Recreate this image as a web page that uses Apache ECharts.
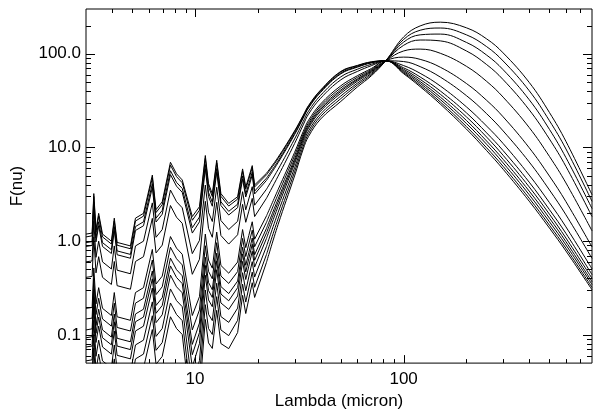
<!DOCTYPE html>
<html><head><meta charset="utf-8">
<script src="https://cdn.jsdelivr.net/npm/echarts@6/dist/echarts.min.js"></script>
<style>html,body{margin:0;padding:0;background:#fff}#chart{width:593px;height:415px}</style>
</head><body><div id="chart"></div>
<script>
// Wavelength grid (micron)
const wavelengths = [3.0, 3.21, 3.27, 3.35, 3.45, 3.6, 3.97, 4.1, 4.23, 4.9, 5.18, 5.66, 6.24, 6.5, 6.96, 7.62, 8.15, 8.68, 9.7, 10.5, 11.2, 11.6, 12.1, 12.7, 13.3, 14.5, 16.0, 16.9, 17.5, 18.1, 18.8, 19.3, 22, 25, 30, 33, 35, 40, 50, 60, 70, 82, 100, 120, 150, 200, 250, 300, 400, 500, 600, 800];

// F(nu) per template
const sed01 = [1.19, 1.22, 3.22, 1.33, 1.98, 1.19, 1.00, 1.76, 0.97, 0.89, 1.76, 1.98, 5.07, 2.17, 2.63, 6.95, 5.23, 4.5, 1.83, 2.33, 8.2, 4.11, 3.2, 7.3, 3.22, 2.53, 2.98, 5.9, 3.79, 4.83, 6.4, 3.98, 5.3, 7.85, 15.0, 22.0, 28.0, 41.0, 64.8, 75.0, 82.0, 84, 61.2, 44.5, 29.0, 15.7, 9.25, 5.85, 2.67, 1.38, 0.785, 0.303];
const sed02 = [1.11, 1.14, 3.00, 1.24, 1.85, 1.11, 0.933, 1.64, 0.905, 0.830, 1.64, 1.85, 4.73, 2.02, 2.45, 6.48, 4.88, 4.20, 1.67, 2.14, 7.63, 3.83, 2.99, 6.83, 3.01, 2.37, 2.81, 5.58, 3.59, 4.58, 6.08, 3.79, 5.10, 7.61, 14.7, 21.7, 27.6, 40.4, 63.9, 74.3, 81.4, 84, 62.6, 46.2, 30.5, 16.7, 9.91, 6.28, 2.87, 1.48, 0.840, 0.321];
const sed03 = [0.965, 0.989, 2.61, 1.08, 1.61, 0.965, 0.811, 1.43, 0.787, 0.722, 1.43, 1.61, 4.11, 1.76, 2.13, 5.64, 4.24, 3.65, 1.39, 1.81, 6.58, 3.31, 2.60, 5.96, 2.63, 2.08, 2.48, 4.97, 3.19, 4.09, 5.46, 3.42, 4.70, 7.16, 14.1, 21.0, 26.9, 39.4, 62.1, 72.8, 80.5, 84, 64.3, 48.3, 32.4, 18.0, 10.8, 6.84, 3.13, 1.61, 0.911, 0.345];
const sed04 = [0.878, 0.900, 2.38, 0.982, 1.46, 0.878, 0.738, 1.30, 0.716, 0.657, 1.30, 1.46, 3.74, 1.60, 1.94, 5.13, 3.86, 3.32, 1.22, 1.61, 5.94, 3.00, 2.36, 5.44, 2.40, 1.90, 2.28, 4.60, 2.96, 3.80, 5.08, 3.19, 4.45, 6.87, 13.7, 20.6, 26.4, 38.7, 61.0, 71.9, 79.8, 84, 66.1, 50.5, 34.4, 19.4, 11.7, 7.46, 3.42, 1.76, 0.987, 0.369];
const sed05 = [0.601, 0.616, 1.63, 0.672, 1.00, 0.601, 0.505, 0.889, 0.490, 0.449, 0.889, 1.00, 2.56, 1.10, 1.33, 3.51, 2.64, 2.27, 0.736, 1.02, 3.97, 2.03, 1.62, 3.76, 1.66, 1.33, 1.63, 3.37, 2.16, 2.82, 3.81, 2.42, 3.58, 5.82, 12.3, 18.9, 24.4, 36.0, 56.7, 68.3, 77.1, 84, 68.2, 53.2, 36.9, 21.2, 12.9, 8.24, 3.79, 1.94, 1.08, 0.401];
const sed06 = [0.411, 0.421, 1.11, 0.459, 0.683, 0.411, 0.345, 0.607, 0.335, 0.307, 0.607, 0.683, 1.75, 0.749, 0.907, 2.40, 1.80, 1.55, 0.443, 0.641, 2.66, 1.37, 1.10, 2.60, 1.15, 0.931, 1.17, 2.47, 1.59, 2.09, 2.86, 1.83, 2.87, 4.93, 11.0, 17.4, 22.7, 33.5, 52.7, 64.7, 74.5, 84, 70.7, 56.5, 40.0, 23.4, 14.3, 9.24, 4.26, 2.17, 1.21, 0.440];
const sed07 = [0.192, 0.196, 0.518, 0.214, 0.319, 0.192, 0.161, 0.283, 0.156, 0.143, 0.283, 0.319, 0.816, 0.349, 0.423, 1.12, 0.842, 0.725, 0.161, 0.256, 1.19, 0.629, 0.515, 1.25, 0.551, 0.455, 0.599, 1.33, 0.853, 1.15, 1.61, 1.05, 1.86, 3.54, 8.84, 14.8, 19.5, 29.1, 45.5, 58.2, 69.5, 84, 74.7, 61.8, 45.2, 27.1, 16.9, 11.0, 5.07, 2.58, 1.42, 0.506];
const sed08 = [0.148, 0.151, 0.399, 0.165, 0.246, 0.148, 0.124, 0.218, 0.120, 0.110, 0.218, 0.246, 0.629, 0.269, 0.326, 0.862, 0.649, 0.558, 0.113, 0.185, 0.894, 0.477, 0.397, 0.964, 0.425, 0.354, 0.474, 1.07, 0.686, 0.932, 1.31, 0.872, 1.59, 3.16, 8.18, 13.9, 18.4, 27.7, 43.2, 56.0, 67.7, 84, 82.5, 72.8, 56.3, 35.7, 22.9, 15.0, 6.99, 3.52, 1.91, 0.655];
const sed09 = [0.113, 0.116, 0.305, 0.126, 0.188, 0.113, 0.0948, 0.167, 0.0920, 0.0844, 0.167, 0.188, 0.481, 0.206, 0.249, 0.659, 0.496, 0.427, 0.0792, 0.134, 0.674, 0.363, 0.303, 0.745, 0.328, 0.276, 0.375, 0.861, 0.553, 0.753, 1.08, 0.716, 1.37, 2.81, 7.56, 13.2, 17.5, 26.4, 41.1, 53.9, 66.2, 84, 92.0, 87.1, 71.7, 48.1, 31.8, 21.2, 9.92, 4.95, 2.64, 0.867];
const sed10 = [0.0932, 0.0955, 0.252, 0.104, 0.155, 0.0932, 0.0783, 0.138, 0.0760, 0.0697, 0.138, 0.155, 0.397, 0.170, 0.206, 0.544, 0.410, 0.352, 0.0615, 0.106, 0.551, 0.298, 0.251, 0.618, 0.273, 0.231, 0.319, 0.732, 0.470, 0.652, 0.928, 0.625, 1.22, 2.59, 7.14, 12.6, 16.8, 25.4, 39.6, 52.6, 64.9, 84, 107, 112, 101, 73.4, 50.7, 34.4, 16.3, 8.02, 4.18, 1.29];
const sed11 = [0.0743, 0.0761, 0.201, 0.0830, 0.124, 0.0743, 0.0624, 0.110, 0.0605, 0.0555, 0.110, 0.124, 0.316, 0.135, 0.164, 0.434, 0.326, 0.281, 0.0454, 0.0809, 0.433, 0.236, 0.200, 0.496, 0.219, 0.187, 0.260, 0.608, 0.390, 0.541, 0.781, 0.529, 1.07, 2.34, 6.71, 12.0, 16.1, 24.4, 37.8, 50.9, 63.6, 84, 123, 140, 137, 107, 76.6, 52.9, 25.2, 12.3, 6.26, 1.83];
const sed12 = [0.0528, 0.0542, 0.143, 0.0591, 0.0879, 0.0528, 0.0444, 0.0781, 0.0431, 0.0395, 0.0781, 0.0879, 0.225, 0.0963, 0.117, 0.309, 0.232, 0.200, 0.0287, 0.0534, 0.301, 0.166, 0.142, 0.356, 0.157, 0.136, 0.193, 0.461, 0.296, 0.415, 0.604, 0.414, 0.880, 2.02, 6.06, 11.2, 15.0, 22.8, 35.4, 48.5, 61.7, 84, 133, 159, 162, 132, 96.7, 67.5, 32.3, 15.6, 7.78, 2.23];
const sed13 = [0.0375, 0.0384, 0.101, 0.0419, 0.0624, 0.0375, 0.0315, 0.0554, 0.0306, 0.0280, 0.0554, 0.0624, 0.160, 0.0684, 0.0828, 0.219, 0.165, 0.142, 0.0182, 0.0352, 0.210, 0.117, 0.101, 0.256, 0.113, 0.0982, 0.143, 0.348, 0.224, 0.317, 0.467, 0.322, 0.721, 1.73, 5.49, 10.3, 14.0, 21.4, 33.2, 46.4, 59.8, 84, 142, 178, 188, 159, 119, 83.6, 40.3, 19.3, 9.63, 2.66];
const sed14 = [0.0267, 0.0273, 0.0721, 0.0298, 0.0444, 0.0267, 0.0224, 0.0394, 0.0217, 0.0199, 0.0394, 0.0444, 0.114, 0.0486, 0.0589, 0.156, 0.117, 0.101, 0.0115, 0.0233, 0.146, 0.0822, 0.0717, 0.183, 0.0808, 0.0713, 0.106, 0.264, 0.169, 0.242, 0.360, 0.251, 0.594, 1.50, 4.97, 9.61, 13.1, 20.1, 31.0, 44.2, 58.1, 84, 151, 198, 217, 189, 144, 102, 49.4, 23.6, 11.6, 3.13];

const seds = [sed01, sed02, sed03, sed04, sed05, sed06, sed07, sed08, sed09, sed10, sed11, sed12, sed13, sed14];

// index where the smooth far-infrared part begins (22 micron)
const farStart = 32;

// Axis ticks and labels
const xTickLabels = [[10, '10'], [100, '100']];
const yTickLabels = [[0.1, '0.1'], [1, '1.0'], [10, '10.0'], [100, '100.0']];
const xMajorTicks = [10, 100];
const xMinorTicks = [4, 5, 6, 7, 8, 9, 20, 30, 40, 50, 60, 70, 80, 90, 200, 300, 400, 500, 600, 700];
const yMajorTicks = [0.1, 1, 10, 100];
const yMinorTicks = [0.06, 0.07, 0.08, 0.09, 0.2, 0.3, 0.4, 0.5, 0.6, 0.7, 0.8, 0.9, 2, 3, 4, 5, 6, 7, 8, 9, 20, 30, 40, 50, 60, 70, 80, 90, 200];

function lookup(table, v) {
  for (const [t, s] of table) if (Math.abs(v / t - 1) < 1e-6) return s;
  return '';
}

function tickSeries(values, isX, len) {
  return {
    type: 'custom', silent: true, z: 5, clip: false, animation: false,
    data: values.map(v => isX ? [v, 1] : [10, v]),
    renderItem: function (params, api) {
      const cs = params.coordSys;
      const p = api.coord([api.value(0), api.value(1)]);
      const style = { stroke: '#000', lineWidth: 1, fill: null };
      if (isX) {
        const x = Math.round(p[0]) + 0.5;
        const yb = cs.y + cs.height, yt = cs.y;
        return { type: 'group', children: [
          { type: 'line', shape: { x1: x, y1: yb, x2: x, y2: yb - len }, style: style },
          { type: 'line', shape: { x1: x, y1: yt, x2: x, y2: yt + len }, style: style }
        ] };
      } else {
        const y = Math.round(p[1]) + 0.5;
        const xl = cs.x, xr = cs.x + cs.width;
        return { type: 'group', children: [
          { type: 'line', shape: { x1: xl, y1: y, x2: xl + len, y2: y }, style: style },
          { type: 'line', shape: { x1: xr, y1: y, x2: xr - len, y2: y }, style: style }
        ] };
      }
    }
  };
}

const font = 'Liberation Sans, Arial, Helvetica, sans-serif';
const chart = echarts.init(document.getElementById('chart'), null, { renderer: 'canvas' });

const lineSeries = [];
seds.forEach((s, k) => {
  const pts = wavelengths.map((w, i) => [w, s[i]]);
  // mid-infrared part: sharp features
  lineSeries.push({
    type: 'line', name: 'sed' + (k + 1) + 'a', symbol: 'none', showSymbol: false,
    animation: false, silent: true, clip: true,
    lineStyle: { color: '#000', width: 1 },
    data: pts.slice(0, farStart + 1)
  });
  // far-infrared part: smooth continuum
  lineSeries.push({
    type: 'line', name: 'sed' + (k + 1) + 'b', symbol: 'none', showSymbol: false,
    animation: false, silent: true, clip: true, smooth: 0.4,
    lineStyle: { color: '#000', width: 1 },
    data: pts.slice(farStart)
  });
});

chart.setOption({
  backgroundColor: '#fff',
  animation: false,
  grid: { left: 86, right: 1, top: 9, bottom: 46, show: true, borderColor: '#000', borderWidth: 1, backgroundColor: 'transparent' },
  xAxis: {
    type: 'log', logBase: 10, min: 3, max: 800,
    name: 'Lambda (micron)', nameLocation: 'middle', nameGap: 28,
    nameTextStyle: { fontFamily: font, fontSize: 17, color: '#000' },
    axisLine: { show: false }, axisTick: { show: false }, splitLine: { show: false },
    axisLabel: { showMinLabel: false, showMaxLabel: false, margin: 8, fontFamily: font, fontSize: 17, color: '#000',
      formatter: v => lookup(xTickLabels, v) }
  },
  yAxis: {
    type: 'log', logBase: 10, min: 0.05, max: 300,
    name: 'F(nu)', nameLocation: 'middle', nameGap: 60,
    nameTextStyle: { fontFamily: font, fontSize: 17, color: '#000' },
    axisLine: { show: false }, axisTick: { show: false }, splitLine: { show: false },
    axisLabel: { showMinLabel: false, showMaxLabel: false, margin: 5, fontFamily: font, fontSize: 17, color: '#000',
      formatter: v => lookup(yTickLabels, v) }
  },
  series: lineSeries.concat([
    tickSeries(xMajorTicks, true, 8),
    tickSeries(xMinorTicks, true, 4),
    tickSeries(yMajorTicks, false, 9),
    tickSeries(yMinorTicks, false, 5)
  ])
});
</script>
</body></html>
